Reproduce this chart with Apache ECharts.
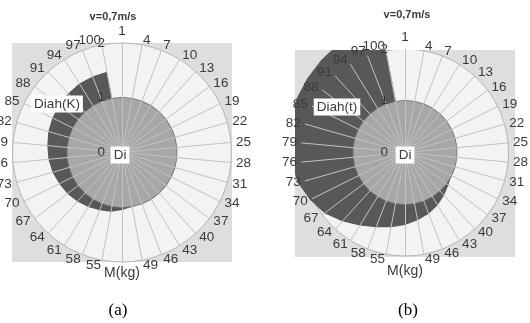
<!DOCTYPE html>
<html>
<head>
<meta charset="utf-8">
<script src="https://cdn.jsdelivr.net/npm/echarts@6/dist/echarts.min.js"></script>
<style>
  html, body { margin: 0; padding: 0; background: #fff; }
  #chart { width: 530px; height: 323px; }
</style>
</head>
<body>
<div id="chart"></div>
<script>
// M (kg), clockwise from the top
const massKg = [1, 4, 7, 10, 13, 16, 19, 22, 25, 28, 31, 34, 37, 40, 43, 46, 49, 52, 55,
  58, 61, 64, 67, 70, 73, 76, 79, 82, 85, 88, 91, 94, 97, 100];

const di = [1, 1, 1, 1, 1, 1, 1, 1, 1, 1, 1, 1, 1, 1, 1, 1, 1, 1, 1,
  1, 1, 1, 1, 1, 1, 1, 1, 1, 1, 1, 1, 1, 1, 1];

// (a) Diah(K)
const diahK = [0.1, 0.2, 0.28, 0.35, 0.42, 0.48, 0.54, 0.6, 0.65, 0.7, 0.75, 0.8, 0.85, 0.89, 0.93, 0.97, 1.01, 1.05, 1.1,
  1.13, 1.17, 1.21, 1.25, 1.28, 1.32, 1.35, 1.37, 1.4, 1.42, 1.44, 1.46, 1.48, 1.49, 1.5];

// (b) Diah(t)
const diahT = [0.1, 0.2, 0.3, 0.4, 0.5, 0.58, 0.66, 0.74, 0.82, 0.89, 0.95, 1.0, 1.05, 1.12, 1.2, 1.27, 1.33, 1.4, 1.47,
  1.55, 1.66, 1.8, 1.95, 2.05, 2.15, 2.21, 2.26, 2.3, 2.34, 2.37, 2.41, 2.46, 2.53, 2.6];

const radialMax = 2;
const radialStep = 1;

// the label under the axis title is dropped in the original
const hiddenLabel = '52';

const GREY_TEXT = '#3a3a3a';
const FONT = 'Liberation Sans';

// echarts radar runs counter-clockwise, so keep the first item at the top and flip the rest
const cw = arr => [arr[0]].concat(arr.slice(1).reverse());

const indicators = cw(massKg).map(m => ({ name: String(m), min: 0, max: radialMax }));

const panels = [
  { center: [122, 152.5], radius: 109.5, box: [12, 43, 220, 219], diah: diahK, diahName: 'Diah(K)',
    diahLabel: [57, 104], diLabel: [120, 155], title: [113, 17], axisTitle: [122, 273], tag: '(a)', tagPos: [118, 311] },
  { center: [405, 152.5], radius: 103.5, box: [295, 50, 220, 207], diah: diahT, diahName: 'Diah(t)',
    diahLabel: [337, 107], diLabel: [405, 155], title: [407, 15], axisTitle: [405, 271], tag: '(b)', tagPos: [408, 311] }
];

const radar = [];
const polar = [];
const angleAxis = [];
const radiusAxis = [];
const series = [];
const graphic = [];

panels.forEach((p, i) => {
  // background disc
  radar.push({
    z: 1,
    center: p.center,
    radius: p.radius,
    shape: 'circle',
    splitNumber: 2,
    indicator: indicators,
    axisName: { show: false },
    axisLine: { show: false },
    splitLine: { lineStyle: { color: '#b4b4b4', width: 1 } },
    splitArea: { areaStyle: { color: ['#f3f3f3', '#f3f3f3'] } }
  });
  // spokes + labels on top
  radar.push({
    z: 3,
    center: p.center,
    radius: p.radius,
    shape: 'circle',
    splitNumber: 2,
    indicator: indicators,
    nameGap: 5,
    axisName: {
      color: GREY_TEXT, fontSize: 13.5, fontFamily: FONT,
      formatter: name => (name === hiddenLabel ? '' : name)
    },
    axisLine: { lineStyle: { color: '#c2c2c2', width: 1 } },
    splitLine: { show: false },
    splitArea: { show: false }
  });

  polar.push({ center: p.center, radius: p.radius });
  angleAxis.push({ polarIndex: i, type: 'value', show: false, min: 0, max: 360 });
  radiusAxis.push({
    polarIndex: i, z: 4, min: 0, max: radialMax, interval: radialStep,
    axisLine: { show: false }, axisTick: { show: false }, splitLine: { show: false },
    axisLabel: { color: GREY_TEXT, fontSize: 13.5, fontFamily: FONT, margin: 17 }
  });

  series.push({
    type: 'radar', radarIndex: i * 2, z: 2, symbol: 'none',
    data: [
      { name: p.diahName, value: cw(p.diah),
        lineStyle: { width: 0 }, areaStyle: { color: '#585858', opacity: 1 } },
      { name: 'Di', value: cw(di),
        lineStyle: { color: '#6f6f6f', width: 1.5 }, areaStyle: { color: '#a7a7a7', opacity: 1 } }
    ]
  });

  const [bx, by, bw, bh] = p.box;
  graphic.push({ type: 'rect', z: 0, shape: { x: bx, y: by, width: bw, height: bh }, style: { fill: '#dedede' } });

  const txt = (text, pos, extra) => Object.assign({
    type: 'text', z: 10, x: pos[0], y: pos[1],
    style: Object.assign({
      text, fill: GREY_TEXT, font: '13.5px "' + FONT + '"',
      align: 'center', verticalAlign: 'middle', textAlign: 'center', textVerticalAlign: 'middle'
    }, extra || {})
  });
  graphic.push(txt('v=0,7m/s', p.title, { font: 'bold 11px "' + FONT + '"' }));
  graphic.push(txt('M(kg)', p.axisTitle, { font: '14px "' + FONT + '"' }));
  graphic.push(txt(p.tag, p.tagPos, { font: '17px "Liberation Serif"', fill: '#000' }));
  graphic.push(txt('Di', p.diLabel, { backgroundColor: '#fff', padding: [2, 3, 1, 3] }));
  graphic.push(txt(p.diahName, p.diahLabel, { backgroundColor: '#fff', padding: [2, 3, 1, 3] }));
});

// plot-area clip for panel (b): values above the max spill past the circle but stop at the grey box
const [cx, cy, cwid, chei] = panels[1].box;
const frameStyle = { fill: '#fff' };
graphic.push(
  { type: 'rect', z: 2.5, shape: { x: 233, y: 0, width: cx - 233, height: 323 }, style: frameStyle },
  { type: 'rect', z: 2.5, shape: { x: cx, y: 0, width: 530 - cx, height: cy }, style: frameStyle },
  { type: 'rect', z: 2.5, shape: { x: cx + cwid, y: 0, width: 530 - cx - cwid, height: 323 }, style: frameStyle },
  { type: 'rect', z: 2.5, shape: { x: cx, y: cy + chei, width: 530 - cx, height: 323 - cy - chei }, style: frameStyle }
);

const chart = echarts.init(document.getElementById('chart'));
chart.setOption({
  animation: false,
  backgroundColor: '#fff',
  textStyle: { fontFamily: FONT },
  radar,
  polar,
  angleAxis,
  radiusAxis,
  series,
  graphic
});
</script>
</body>
</html>
